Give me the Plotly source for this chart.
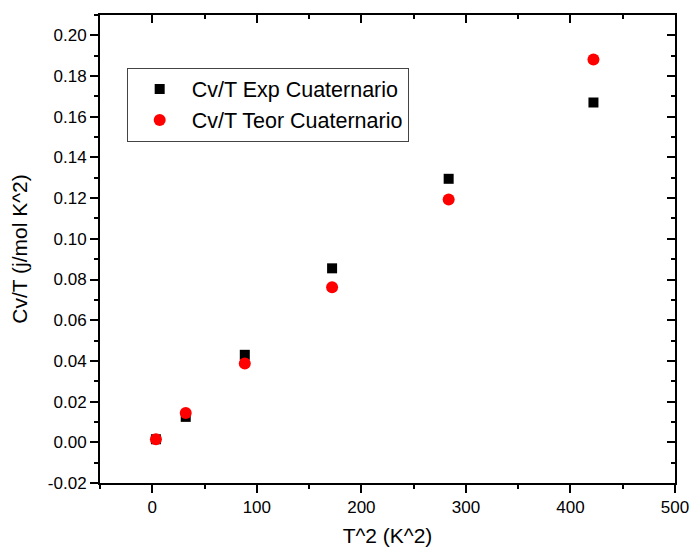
import plotly.graph_objects as go

# Data
t2 = [3.5, 32, 88.5, 172, 283.5, 422]
cv_exp = [0.0015, 0.0125, 0.043, 0.0855, 0.1295, 0.167]
cv_teo = [0.0015, 0.0144, 0.0387, 0.0762, 0.1193, 0.1881]

x_ticks = [0, 100, 200, 300, 400, 500]
y_ticks = [-0.02, 0.00, 0.02, 0.04, 0.06, 0.08, 0.10, 0.12, 0.14, 0.16, 0.18, 0.20]
y_labels = ["%.2f" % v for v in y_ticks]

FONT = "Liberation Sans, Arial, sans-serif"
XR = [-50, 500]
YR = [-0.02, 0.21]

fig = go.Figure()
fig.add_trace(go.Scatter(
    x=t2, y=cv_exp, mode="markers", name="Cv/T Exp Cuaternario",
    marker=dict(symbol="square", size=10, color="black", line=dict(width=0)),
))
fig.add_trace(go.Scatter(
    x=t2, y=cv_teo, mode="markers", name="Cv/T Teor Cuaternario",
    marker=dict(symbol="circle", size=12, color="red", line=dict(width=0)),
))
# empty trace to hold the top/right (inward tick) axes
fig.add_trace(go.Scatter(x=[], y=[], xaxis="x2", yaxis="y2", showlegend=False, hoverinfo="skip"))

common = dict(showgrid=False, zeroline=False, showline=True, linecolor="black", linewidth=2,
              tickcolor="black", tickwidth=1.5, ticklen=8, automargin=False,
              tickfont=dict(family=FONT, size=17, color="black"))

fig.update_layout(
    width=691, height=550,
    margin=dict(l=100, r=16, t=15, b=67),
    paper_bgcolor="white", plot_bgcolor="white",
    font=dict(family=FONT, color="black"),
    showlegend=True,
    legend=dict(x=0.0464, y=0.8876, xanchor="left", yanchor="top",
                bordercolor="#444", borderwidth=1, bgcolor="white",
                font=dict(family=FONT, size=21.5, color="black"),
                itemwidth=54, tracegroupgap=0),
    xaxis=dict(range=XR, tickvals=x_ticks, ticks="outside",
               minor=dict(dtick=50, ticks="outside", ticklen=4, tickcolor="black", tickwidth=1.5),
               title=dict(text="T^2 (K^2)", font=dict(family=FONT, size=21, color="black"), standoff=12),
               **common),
    yaxis=dict(range=YR, tickvals=y_ticks, ticktext=y_labels, ticks="outside",
               minor=dict(dtick=0.01, tick0=0, ticks="outside", ticklen=4, tickcolor="black", tickwidth=1.5),
               title=dict(text="Cv/T (j/mol K^2)", font=dict(family=FONT, size=21, color="black"), standoff=14),
               **common),
    xaxis2=dict(range=XR, overlaying="x", side="top", anchor="y", tickvals=x_ticks,
                ticks="inside", showticklabels=False,
                minor=dict(dtick=50, ticks="inside", ticklen=4, tickcolor="black", tickwidth=1.5),
                **common),
    yaxis2=dict(range=YR, overlaying="y", side="right", anchor="x", tickvals=y_ticks,
                ticks="inside", showticklabels=False,
                minor=dict(dtick=0.01, tick0=0, ticks="inside", ticklen=4, tickcolor="black", tickwidth=1.5),
                **common),
)

fig.write_html("out.html", config={"displayModeBar": False},
               post_script="document.body.style.margin='0px';")
